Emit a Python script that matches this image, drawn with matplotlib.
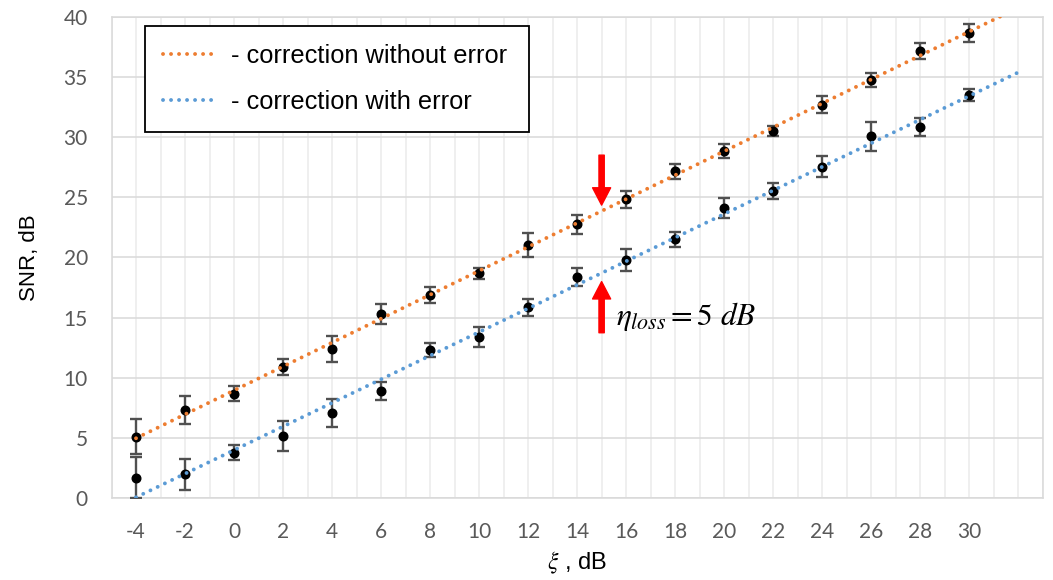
import numpy as np
import matplotlib
matplotlib.use("Agg")
import matplotlib.pyplot as plt

# ---- data ----
xi = [-4, -2, 0, 2, 4, 6, 8, 10, 12, 14, 16, 18, 20, 22, 24, 26, 28, 30]
snr_without = [5.1, 7.35, 8.7, 10.9, 12.4, 15.3, 16.9, 18.7, 21.0, 22.75,
               24.85, 27.15, 28.85, 30.5, 32.7, 34.75, 37.15, 38.65]
err_without = [1.45, 1.15, 0.6, 0.65, 1.05, 0.85, 0.65, 0.45, 1.0, 0.8,
               0.7, 0.6, 0.55, 0.45, 0.7, 0.55, 0.65, 0.75]
snr_with = [1.7, 2.0, 3.8, 5.2, 7.1, 8.9, 12.3, 13.4, 15.85, 18.35,
            19.8, 21.5, 24.1, 25.55, 27.55, 30.05, 30.8, 33.5]
err_with = [1.7, 1.3, 0.6, 1.25, 1.15, 0.75, 0.6, 0.8, 0.7, 0.75,
            0.9, 0.65, 0.85, 0.65, 0.85, 1.2, 0.75, 0.5]
labels = ["- correction without error", "- correction with error"]
x_ticks = list(range(-4, 31, 2))
y_ticks = list(range(0, 41, 5))

# ---- style / layout ----
ORANGE = "#ED7D31"
BLUE = "#5B9BD5"
trend_forward = 2          # trendline forecast beyond last category
arrow_x = 15
down_arrow = (28.5, 24.35)  # from, to
up_arrow = (13.75, 18.0)
loss_text_pos = (15.6, 14.4)

plt.rcParams["mathtext.fontset"] = "stix"
plt.rcParams["axes.unicode_minus"] = False

fig = plt.figure(figsize=(10.53, 5.80), dpi=100)
W, H = 1053, 580
left, right, top, bottom = 111.5, 1042.7, 16.7, 498.3
ax = fig.add_axes([left / W, 1 - bottom / H, (right - left) / W, (bottom - top) / H])

ax.set_xlim(-5, 33)
ax.set_ylim(0, 40)

# grid
ax.set_xticks(x_ticks)
ax.set_xticks(np.arange(-5, 34, 1), minor=True)
ax.set_yticks(y_ticks)
ax.grid(True, which="both", axis="x", color="#ebebeb", lw=1.1, zorder=0)
ax.grid(True, which="major", axis="y", color="#d9d9d9", lw=1.1, zorder=0)
ax.set_axisbelow(True)
for s in ax.spines.values():
    s.set_color("#d9d9d9")
    s.set_linewidth(1.1)

ax.tick_params(axis="both", which="both", length=0, labelsize=15,
               labelcolor="#595959")
ax.tick_params(axis="x", pad=17)
ax.tick_params(axis="y", pad=17)
for lab in ax.get_xticklabels() + ax.get_yticklabels():
    lab.set_fontfamily("Lato")

# data with error bars
for y, e in ((snr_without, err_without), (snr_with, err_with)):
    ax.errorbar(xi, y, yerr=e, fmt="none", ecolor="#505050", elinewidth=1.7,
                capsize=4.5, capthick=1.7, zorder=3, clip_on=True)
    ax.plot(xi, y, "o", color="black", ms=6.2, zorder=4)

# linear trend lines
xs = np.array([xi[0], xi[-1] + trend_forward])
handles = []
for y, c, lab in ((snr_without, ORANGE, labels[0]), (snr_with, BLUE, labels[1])):
    k, b = np.polyfit(xi, y, 1)
    ln, = ax.plot(xs, k * xs + b, color=c, lw=2.8, linestyle=(0, (0.01, 2.05)),
                  dash_capstyle="round", zorder=5, label=lab)
    handles.append(ln)

# legend
x0 = (145 - left) / (right - left)
w = (529 - 145) / (right - left)
y1 = (bottom - 25.7) / (bottom - top)
leg = ax.legend(handles=handles, loc="upper left",
                bbox_to_anchor=(x0, y1 - 0.218, w, 0.218), mode="expand",
                borderaxespad=0, fancybox=False, framealpha=1,
                edgecolor="black", handlelength=2.2, handletextpad=0.45,
                borderpad=0.72, labelspacing=0.85,
                prop={"family": "Liberation Sans", "size": 18.3})
leg.get_frame().set_linewidth(1.3)
leg.set_zorder(10)

# arrows
arrow_kw = dict(color="#FF0000", width=3.8, headwidth=13, headlength=12.5, shrink=0)
ax.annotate("", xy=(arrow_x, down_arrow[1]), xytext=(arrow_x, down_arrow[0]),
            arrowprops=arrow_kw, zorder=6)
ax.annotate("", xy=(arrow_x, up_arrow[1]), xytext=(arrow_x, up_arrow[0]),
            arrowprops=arrow_kw, zorder=6)
ax.text(loss_text_pos[0], loss_text_pos[1], r"$\eta_{loss} = 5\ dB$",
        fontsize=22.6, ha="left", va="baseline", zorder=6)

# axis labels
ax.set_xlabel(r"$\xi$ , dB", fontsize=17, family="Liberation Sans", labelpad=6)
ax.set_ylabel("SNR, dB", fontsize=16, family="Liberation Sans", labelpad=17)

fig.savefig("out.png", dpi=100)
